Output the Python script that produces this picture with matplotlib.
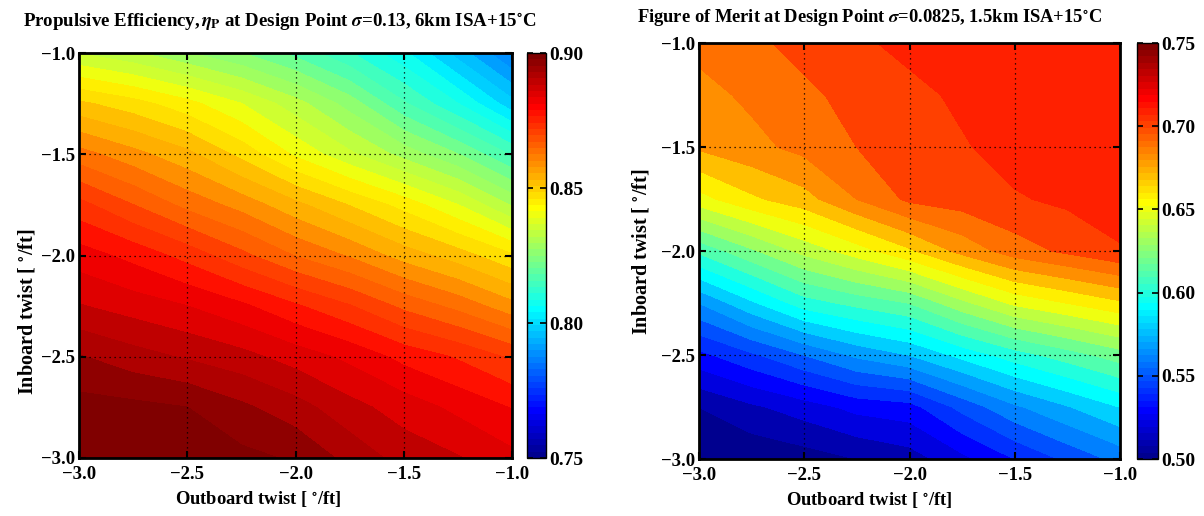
import numpy as np
import matplotlib
matplotlib.use("Agg")
import matplotlib.pyplot as plt
from matplotlib.colors import ListedColormap, Normalize
from matplotlib.cm import ScalarMappable
from matplotlib import ticker

plt.rcParams['font.family'] = ['Liberation Serif', 'DejaVu Serif']
plt.rcParams['font.weight'] = 'bold'
plt.rcParams['mathtext.fontset'] = 'stix'

# Twist grids [deg/ft]
outboard_twist = [-3.0, -2.75, -2.5, -2.25, -2.0, -1.75, -1.5, -1.25, -1.0]
inboard_twist = [-1.0, -1.25, -1.5, -1.75, -2.0, -2.25, -2.5, -2.75, -3.0]

# Propulsive efficiency, one row per inboard twist value
eta_p = [
    [0.836, 0.833, 0.829, 0.825, 0.820, 0.814, 0.807, 0.797, 0.787],
    [0.852, 0.849, 0.845, 0.840, 0.834, 0.827, 0.818, 0.810, 0.800],
    [0.864, 0.860, 0.856, 0.850, 0.843, 0.837, 0.831, 0.825, 0.817],
    [0.875, 0.870, 0.865, 0.861, 0.856, 0.851, 0.846, 0.840, 0.832],
    [0.883, 0.880, 0.876, 0.871, 0.866, 0.862, 0.857, 0.853, 0.848],
    [0.889, 0.887, 0.885, 0.882, 0.878, 0.874, 0.869, 0.865, 0.860],
    [0.8965, 0.894, 0.892, 0.890, 0.887, 0.884, 0.880, 0.877, 0.873],
    [0.9015, 0.901, 0.900, 0.897, 0.894, 0.890, 0.887, 0.884, 0.881],
    [0.905, 0.904, 0.9025, 0.901, 0.8995, 0.895, 0.891, 0.889, 0.886],
]

# Hover figure of merit, one row per inboard twist value
figure_of_merit = [
    [0.693, 0.698, 0.703, 0.708, 0.713, 0.715, 0.717, 0.718, 0.718],
    [0.6865, 0.692, 0.698, 0.703, 0.707, 0.712, 0.716, 0.717, 0.718],
    [0.6815, 0.687, 0.693, 0.700, 0.704, 0.709, 0.714, 0.716, 0.717],
    [0.656, 0.668, 0.676, 0.690, 0.702, 0.705, 0.709, 0.712, 0.715],
    [0.612, 0.628, 0.643, 0.655, 0.668, 0.683, 0.695, 0.702, 0.709],
    [0.570, 0.588, 0.605, 0.613, 0.620, 0.637, 0.652, 0.660, 0.668],
    [0.537, 0.548, 0.560, 0.572, 0.580, 0.593, 0.605, 0.615, 0.625],
    [0.510, 0.518, 0.525, 0.533, 0.536, 0.553, 0.568, 0.579, 0.590],
    [0.501, 0.502, 0.505, 0.510, 0.515, 0.527, 0.540, 0.552, 0.563],
]

axis_ticks = [-3.0, -2.5, -2.0, -1.5, -1.0]
eta_cbar_ticks = [0.75, 0.80, 0.85, 0.90]
fom_cbar_ticks = [0.50, 0.55, 0.60, 0.65, 0.70, 0.75]


def classic_jet(m=64):
    """Classic 64-entry jet table."""
    n = int(np.ceil(m / 4))
    u = np.concatenate([np.arange(1, n + 1) / n, np.ones(n - 1), np.arange(n, 0, -1) / n])
    g = int(np.ceil(n / 2)) - (1 if m % 4 == 1 else 0) + np.arange(1, len(u) + 1)
    r = g + n
    b = g - n
    J = np.zeros((m, 3))
    for chan, inds in ((0, r), (1, g), (2, b)):
        for idx, val in zip(inds, u):
            if 1 <= idx <= m:
                J[idx - 1, chan] = val
    return J


JET = classic_jet(64)
CMAP = ListedColormap(JET)


def band_colors(levels, vmin, vmax):
    idx = np.floor((np.asarray(levels[:-1]) - vmin) / (vmax - vmin) * 64 + 1e-9).astype(int)
    idx = np.clip(idx, 0, 63)
    return [JET[i] for i in idx]


def minus_fmt(fmt):
    return ticker.FuncFormatter(lambda v, p: (fmt % v).replace('-', '\u2212'))


def style_axes(ax):
    ax.set_xlim(-3, -1)
    ax.set_ylim(-3, -1)
    ax.set_xticks(axis_ticks)
    ax.set_yticks(axis_ticks)
    ax.xaxis.set_major_formatter(minus_fmt('%.1f'))
    ax.yaxis.set_major_formatter(minus_fmt('%.1f'))
    ax.tick_params(direction='in', top=True, right=True, length=5, width=1.5,
                   labelsize=13.5)
    ax.tick_params(axis='x', pad=6)
    ax.tick_params(axis='y', pad=3)
    for lbl in ax.get_xticklabels() + ax.get_yticklabels():
        lbl.set_fontweight('bold')
    ax.grid(True, linestyle=(0, (1, 3)), color='k', linewidth=0.9)
    for s in ax.spines.values():
        s.set_linewidth(2.0)


def add_cbar(fig, rect, vmin, vmax, ticks):
    cax = fig.add_axes(rect)
    sm = ScalarMappable(norm=Normalize(vmin, vmax), cmap=CMAP)
    cb = fig.colorbar(sm, cax=cax, ticks=ticks)
    cb.ax.yaxis.set_major_formatter(minus_fmt('%.2f'))
    cb.ax.tick_params(direction='in', left=True, right=True, length=4, width=1.2,
                      labelsize=14, pad=2)
    for lbl in cb.ax.get_yticklabels():
        lbl.set_fontweight('bold')
    cb.outline.set_linewidth(1.0)
    return cb


W, H = 1204, 516
fig = plt.figure(figsize=(W / 100, H / 100), dpi=100)


def rect(x0, y0, x1, y1):
    return [x0 / W, 1 - y1 / H, (x1 - x0) / W, (y1 - y0) / H]


X, Y = np.meshgrid(outboard_twist, inboard_twist)

# Left: propulsive efficiency
ax1 = fig.add_axes(rect(79, 53, 512, 458))
eta_levels = np.arange(0.75, 0.91, 0.00375)
cs1 = ax1.contourf(X, Y, np.array(eta_p), levels=eta_levels,
                   colors=band_colors(eta_levels, 0.75, 0.90))
cs1.set_edgecolor('face')
cs1.set_linewidth(0.4)
style_axes(ax1)
add_cbar(fig, rect(527, 53, 546, 458), 0.75, 0.90, eta_cbar_ticks)

# Right: figure of merit
ax2 = fig.add_axes(rect(699, 43, 1120, 459))
fom_levels = np.arange(0.50, 0.7501, 0.01)
cs2 = ax2.contourf(X, Y, np.array(figure_of_merit), levels=fom_levels,
                   colors=band_colors(fom_levels, 0.50, 0.75))
cs2.set_edgecolor('face')
cs2.set_linewidth(0.4)
style_axes(ax2)
add_cbar(fig, rect(1137, 43, 1158, 459), 0.50, 0.75, fom_cbar_ticks)

# Titles and axis labels
fig.text(280 / W, 1 - 21 / H,
         r'Propulsive Efficiency,$\,\eta_{\mathbf{P}}$ at Design Point $\sigma$=0.13, 6km ISA+15$^{\circ}$C',
         ha='center', va='center', fontsize=13.6, fontweight='bold')
fig.text(870 / W, 1 - 18 / H,
         r'Figure of Merit at Design Point $\sigma$=0.0825, 1.5km ISA+15$^{\circ}$C',
         ha='center', va='center', fontsize=13.3, fontweight='bold')

xlab = r'Outboard twist [ $^{\circ}$/ft]'
ylab = r'Inboard twist [ $^{\circ}$/ft]'
fig.text(258 / W, 1 - 499 / H, xlab, ha='center', va='center', fontsize=13.3, fontweight='bold')
fig.text(869 / W, 1 - 500 / H, xlab, ha='center', va='center', fontsize=13.3, fontweight='bold')
fig.text(27 / W, 1 - 312 / H, ylab, ha='center', va='center', rotation=90,
         fontsize=14.5, fontweight='bold')
fig.text(641 / W, 1 - 252 / H, ylab, ha='center', va='center', rotation=90,
         fontsize=14.5, fontweight='bold')

fig.savefig('out.png', dpi=100)
